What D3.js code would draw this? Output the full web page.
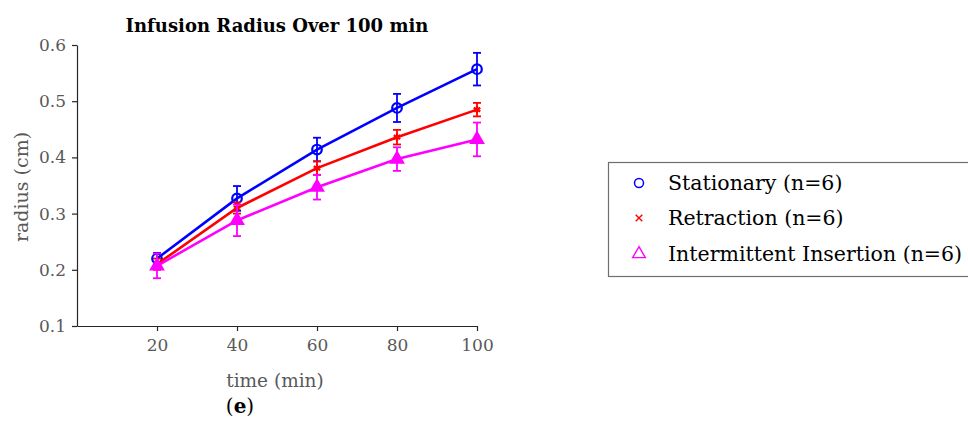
<!DOCTYPE html>
<html>
<head>
<meta charset="utf-8">
<script src="https://cdn.jsdelivr.net/npm/d3@7"></script>
<style>
  body { margin: 0; background: #fff; }
  svg { display: block; }
  text { font-family: "DejaVu Serif", "Liberation Serif", serif; }
</style>
</head>
<body>
<svg id="chart" width="968" height="428"></svg>
<script>
// data
var times = [20, 40, 60, 80, 100];
var stationary = [0.220, 0.327, 0.414, 0.488, 0.557];
var stationaryErr = [0.010, 0.022, 0.021, 0.025, 0.029];
var retraction = [0.210, 0.310, 0.381, 0.436, 0.485];
var retractionErr = [0.010, 0.010, 0.012, 0.013, 0.012];
var intermittent = [0.207, 0.288, 0.347, 0.397, 0.432];
var intermittentErr = [0.022, 0.028, 0.022, 0.021, 0.030];
var xTicks = [20, 40, 60, 80, 100];
var yTicks = [0.1, 0.2, 0.3, 0.4, 0.5, 0.6];
var seriesNames = ['Stationary (n=6)', 'Retraction (n=6)', 'Intermittent Insertion (n=6)'];

var tickGrey = '#595959';

var series = [
    { name: seriesNames[0], values: stationary, err: stationaryErr, color: '#0000ff', marker: 'circle' },
    { name: seriesNames[1], values: retraction, err: retractionErr, color: '#ff0000', marker: 'star' },
    { name: seriesNames[2], values: intermittent, err: intermittentErr, color: '#ff00ff', marker: 'triangle' }
];

var svg = d3.select('#chart');

var x = d3.scaleLinear().domain([0, 100]).range([77, 477]);
var y = d3.scaleLinear().domain([0.1, 0.6]).range([326, 45]);

// axes
var xAxis = svg.append('g')
    .attr('transform', 'translate(0,' + y(0.1) + ')')
    .call(d3.axisBottom(x).tickValues(xTicks).tickSize(5).tickSizeOuter(0).tickPadding(8).tickFormat(d3.format('d')));

var yAxis = svg.append('g')
    .attr('transform', 'translate(' + x(0) + ',0)')
    .call(d3.axisLeft(y).tickValues(yTicks).tickSize(5).tickSizeOuter(0).tickPadding(6).tickFormat(d3.format('.1f')));

[xAxis, yAxis].forEach(function (a) {
    a.select('.domain').attr('stroke', '#262626').attr('stroke-width', 1.2);
    a.selectAll('.tick line').attr('stroke', '#262626').attr('stroke-width', 1.2);
    a.selectAll('.tick text')
        .attr('fill', tickGrey)
        .style('font-family', '"DejaVu Serif", serif')
        .style('font-size', '17px');
});

// lines, error bars, markers
var line = d3.line()
    .x(function (d, i) { return x(times[i]); })
    .y(function (d) { return y(d); });

var capHalf = 4;

series.forEach(function (s) {
    var g = svg.append('g').attr('class', 'series');

    g.append('path')
        .attr('d', line(s.values))
        .attr('fill', 'none')
        .attr('stroke', s.color)
        .attr('stroke-width', 2.6);

    var bars = g.selectAll('.err').data(s.values).enter().append('g').attr('class', 'err')
        .attr('stroke', s.color)
        .attr('stroke-width', 1.8);

    bars.append('line')
        .attr('x1', function (d, i) { return x(times[i]); })
        .attr('x2', function (d, i) { return x(times[i]); })
        .attr('y1', function (d, i) { return y(d - s.err[i]); })
        .attr('y2', function (d, i) { return y(d + s.err[i]); });

    bars.append('line')
        .attr('x1', function (d, i) { return x(times[i]) - capHalf; })
        .attr('x2', function (d, i) { return x(times[i]) + capHalf; })
        .attr('y1', function (d, i) { return y(d + s.err[i]); })
        .attr('y2', function (d, i) { return y(d + s.err[i]); });

    bars.append('line')
        .attr('x1', function (d, i) { return x(times[i]) - capHalf; })
        .attr('x2', function (d, i) { return x(times[i]) + capHalf; })
        .attr('y1', function (d, i) { return y(d - s.err[i]); })
        .attr('y2', function (d, i) { return y(d - s.err[i]); });

    var pts = g.selectAll('.pt').data(s.values).enter().append('g').attr('class', 'pt')
        .attr('transform', function (d, i) { return 'translate(' + x(times[i]) + ',' + y(d) + ')'; });

    if (s.marker === 'circle') {
        pts.append('circle').attr('r', 4.8).attr('fill', 'none').attr('stroke', s.color).attr('stroke-width', 2.2);
    } else if (s.marker === 'star') {
        pts.append('path').attr('d', d3.symbol().type(d3.symbolAsterisk).size(40)).attr('stroke', s.color).attr('stroke-width', 2.2);
        pts.append('circle').attr('r', 2.2).attr('fill', s.color);
    } else {
        pts.append('path').attr('d', d3.symbol().type(d3.symbolTriangle).size(75)).attr('fill', s.color).attr('stroke', s.color).attr('stroke-width', 1.5);
    }
});

// title and labels
svg.append('text')
    .attr('x', 277).attr('y', 32)
    .attr('text-anchor', 'middle')
    .style('font-weight', 'bold').style('font-size', '18px')
    .attr('fill', '#000')
    .text('Infusion Radius Over 100 min');

svg.append('text')
    .attr('x', 275).attr('y', 387)
    .attr('text-anchor', 'middle')
    .style('font-size', '18.5px')
    .attr('fill', tickGrey)
    .text('time (min)');

svg.append('text')
    .attr('transform', 'translate(28,187) rotate(-90)')
    .attr('text-anchor', 'middle')
    .style('font-size', '19px')
    .attr('fill', tickGrey)
    .text('radius (cm)');

var panel = svg.append('text')
    .attr('x', 240).attr('y', 413)
    .attr('text-anchor', 'middle')
    .style('font-size', '20px')
    .attr('fill', '#000');
panel.append('tspan').text('(');
panel.append('tspan').style('font-weight', 'bold').text('e');
panel.append('tspan').text(')');

// legend
var legend = svg.append('g').attr('class', 'legend');
legend.append('rect')
    .attr('x', 608.5).attr('y', 162.5)
    .attr('width', 370).attr('height', 114)
    .attr('fill', '#fff')
    .attr('stroke', '#6e6e6e')
    .attr('stroke-width', 1.2);

var legendRows = [183, 218, 254];
var items = legend.selectAll('.legend-item').data(series).enter().append('g')
    .attr('class', 'legend-item')
    .attr('transform', function (d, i) { return 'translate(639,' + legendRows[i] + ')'; });

items.each(function (d) {
    var it = d3.select(this);
    if (d.marker === 'circle') {
        it.append('circle').attr('r', 4.5).attr('fill', 'none').attr('stroke', d.color).attr('stroke-width', 1.5);
    } else if (d.marker === 'star') {
        it.append('path').attr('d', d3.symbol().type(d3.symbolX).size(30)).attr('stroke', d.color).attr('stroke-width', 1.4);
    } else {
        it.append('path').attr('d', d3.symbol().type(d3.symbolTriangle).size(70)).attr('fill', 'none').attr('stroke', d.color).attr('stroke-width', 1.4);
    }
    it.append('text')
        .attr('x', 29).attr('y', 7)
        .style('font-size', '20.5px')
        .attr('fill', '#000')
        .text(d.name);
});
</script>
</body>
</html>
